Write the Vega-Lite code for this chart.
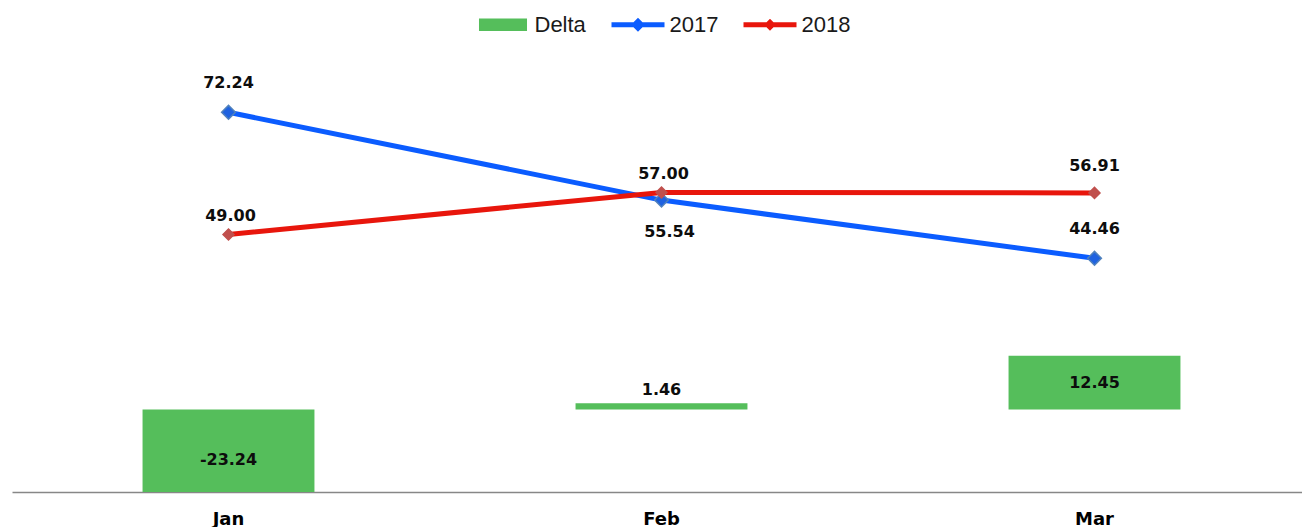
{
  "$schema": "https://vega.github.io/schema/vega-lite/v6.json",
  "width": 1290,
  "height": 452,
  "autosize": "none",
  "padding": {"left": 12, "top": 40, "right": 0, "bottom": 35},
  "background": "white",
  "data": {
    "values": [
      {"month": "Jan", "series": "Delta", "value": -23.24},
      {"month": "Feb", "series": "Delta", "value": 1.46},
      {"month": "Mar", "series": "Delta", "value": 12.45},
      {"month": "Jan", "series": "2017", "value": 72.24},
      {"month": "Feb", "series": "2017", "value": 55.54},
      {"month": "Mar", "series": "2017", "value": 44.46},
      {"month": "Jan", "series": "2018", "value": 49.00},
      {"month": "Feb", "series": "2018", "value": 57.00},
      {"month": "Mar", "series": "2018", "value": 56.91}
    ]
  },
  "encoding": {
    "x": {
      "field": "month",
      "type": "nominal",
      "sort": ["Jan", "Feb", "Mar"],
      "scale": {"range": [0, 1299], "paddingInner": 0, "paddingOuter": 0},
      "axis": {
        "title": null,
        "labelAngle": 0,
        "ticks": false,
        "grid": false,
        "domainColor": "#878787",
        "domainWidth": 1.5,
        "labelFont": "DejaVu Sans",
        "labelFontWeight": "bold",
        "labelFontSize": 18,
        "labelColor": "#000000",
        "labelPadding": 18
      }
    }
  },
  "layer": [
    {
      "transform": [{"filter": "datum.series === 'Delta'"}],
      "mark": {"type": "bar", "width": {"band": 0.397}, "clip": true},
      "encoding": {
        "y": {"field": "value", "type": "quantitative", "scale": {"domain": [-19.1, 85.5], "nice": false}, "axis": null},
        "color": {
          "field": "series",
          "type": "nominal",
          "scale": {"domain": ["Delta", "2017", "2018"], "range": ["#55BE5B", "#0B5CFF", "#E8160C"]},
          "legend": {
            "title": null,
            "orient": "none",
            "direction": "horizontal",
            "legendX": 464.5,
            "legendY": -42,
            "padding": 0,
            "symbolSize": 2809,
            "symbolStrokeWidth": 0,
            "labelFont": "Liberation Sans",
            "labelFontSize": 22,
            "labelColor": "#1a1a1a",
            "labelOffset": 5,
            "columnPadding": 25,
            "encode": {
              "symbols": {
                "update": {
                  "shape": [
                    {"test": "datum.value === 'Delta'", "value": "M-0.906,-0.24H0.906V0.24H-0.906Z"},
                    {"test": "datum.value === '2017'", "value": "M-1,-0.094H1V0.094H-1Z M0,-0.264L0.264,0L0,0.264L-0.264,0Z"},
                    {"value": "M-1,-0.094H1V0.094H-1Z M0,-0.226L0.226,0L0,0.226L-0.226,0Z"}
                  ],
                  "fill": {"scale": "color", "field": "value"},
                  "stroke": {"value": "transparent"},
                  "opacity": {"value": 1},
                  "fillOpacity": {"value": 1}
                }
              }
            }
          }
        }
      }
    },
    {
      "transform": [{"filter": "datum.series !== 'Delta'"}],
      "mark": {"type": "line", "strokeWidth": 5},
      "encoding": {
        "y": {"field": "value", "type": "quantitative", "scale": {"domain": [0, 86], "nice": false}, "axis": null},
        "color": {"field": "series", "type": "nominal"}
      }
    },
    {
      "transform": [{"filter": "datum.series !== 'Delta'"}],
      "mark": {"type": "point", "shape": "diamond", "filled": true, "opacity": 1, "strokeWidth": 1.5},
      "encoding": {
        "y": {"field": "value", "type": "quantitative", "scale": {"domain": [0, 86], "nice": false}, "axis": null},
        "fill": {"field": "series", "type": "nominal", "scale": {"domain": ["2017", "2018"], "range": ["#1F62E0", "#C0504D"]}, "legend": null},
        "stroke": {"field": "series", "type": "nominal", "scale": {"domain": ["2017", "2018"], "range": ["#4F81BD", "#C0504D"]}, "legend": null},
        "size": {"field": "series", "type": "nominal", "scale": {"domain": ["2017", "2018"], "range": [190, 120]}, "legend": null}
      }
    },
    {
      "transform": [
        {"filter": "datum.series === 'Delta' && abs(datum.value) >= 5"},
        {"calculate": "datum.value / 2", "as": "mid"}
      ],
      "mark": {"type": "text", "font": "DejaVu Sans", "fontWeight": "bold", "fontSize": 16, "color": "#0d0d0d", "baseline": "middle"},
      "encoding": {
        "y": {"field": "mid", "type": "quantitative", "scale": {"domain": [-19.1, 85.5], "nice": false}, "axis": null},
        "text": {"field": "value", "type": "quantitative", "format": ".2f"}
      }
    },
    {
      "transform": [{"filter": "datum.series === 'Delta' && abs(datum.value) < 5"}],
      "mark": {"type": "text", "font": "DejaVu Sans", "fontWeight": "bold", "fontSize": 16, "color": "#0d0d0d", "baseline": "middle", "dy": -13},
      "encoding": {
        "y": {"field": "value", "type": "quantitative", "scale": {"domain": [-19.1, 85.5], "nice": false}, "axis": null},
        "text": {"field": "value", "type": "quantitative", "format": ".2f"}
      }
    },
    {
      "transform": [{"filter": "datum.series === '2017' && datum.month !== 'Feb'"}],
      "mark": {"type": "text", "font": "DejaVu Sans", "fontWeight": "bold", "fontSize": 16, "color": "#0d0d0d", "baseline": "middle", "dy": -29},
      "encoding": {
        "y": {"field": "value", "type": "quantitative", "scale": {"domain": [0, 86], "nice": false}, "axis": null},
        "text": {"field": "value", "type": "quantitative", "format": ".2f"}
      }
    },
    {
      "transform": [{"filter": "datum.series === '2017' && datum.month === 'Feb'"}],
      "mark": {"type": "text", "font": "DejaVu Sans", "fontWeight": "bold", "fontSize": 16, "color": "#0d0d0d", "baseline": "middle", "dy": 32, "dx": 8},
      "encoding": {
        "y": {"field": "value", "type": "quantitative", "scale": {"domain": [0, 86], "nice": false}, "axis": null},
        "text": {"field": "value", "type": "quantitative", "format": ".2f"}
      }
    },
    {
      "transform": [{"filter": "datum.series === '2018' && datum.month !== 'Mar'"}],
      "mark": {"type": "text", "font": "DejaVu Sans", "fontWeight": "bold", "fontSize": 16, "color": "#0d0d0d", "baseline": "middle", "dy": -18, "dx": 2},
      "encoding": {
        "y": {"field": "value", "type": "quantitative", "scale": {"domain": [0, 86], "nice": false}, "axis": null},
        "text": {"field": "value", "type": "quantitative", "format": ".2f"}
      }
    },
    {
      "transform": [{"filter": "datum.series === '2018' && datum.month === 'Mar'"}],
      "mark": {"type": "text", "font": "DejaVu Sans", "fontWeight": "bold", "fontSize": 16, "color": "#0d0d0d", "baseline": "middle", "dy": -27},
      "encoding": {
        "y": {"field": "value", "type": "quantitative", "scale": {"domain": [0, 86], "nice": false}, "axis": null},
        "text": {"field": "value", "type": "quantitative", "format": ".2f"}
      }
    }
  ],
  "resolve": {"scale": {"y": "independent"}},
  "config": {
    "view": {"stroke": null},
    "locale": {
      "number": {"decimal": ".", "thousands": ",", "grouping": [3], "currency": ["$", ""], "minus": "-"}
    }
  }
}
